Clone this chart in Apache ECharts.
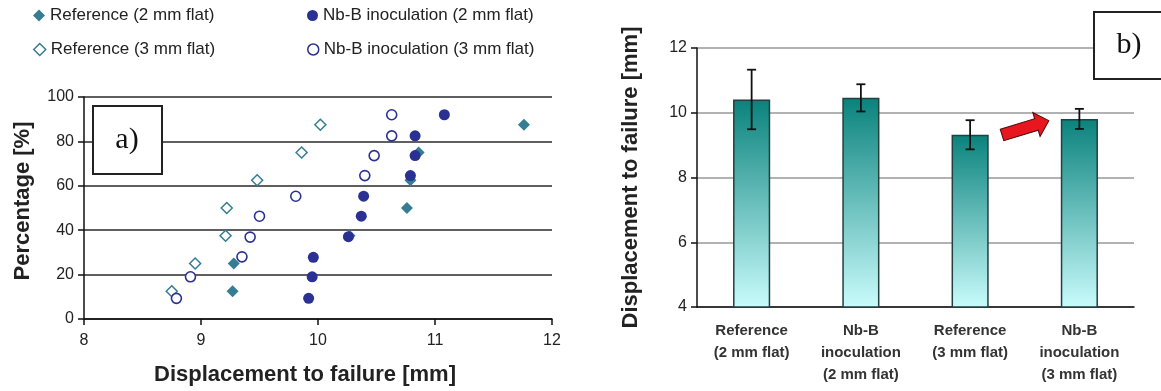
<!DOCTYPE html>
<html>
<head>
	<meta charset="utf-8">
	<script src="https://cdn.jsdelivr.net/npm/echarts@6/dist/echarts.min.js"></script>
	<style>
		* { margin: 0; padding: 0; }
		html, body { width: 100%; height: 100%; background: #fff; }
		#chart { width: 1161px; height: 391px; }
	</style>
</head>
<body>
	<div id="chart"></div>
	<script>
	// a) scatter: displacement [mm] vs cumulative percentage [%]
	var ref2X = [9.27, 9.28, 10.27, 10.76, 10.79, 10.86, 11.76];
	var ref2Y = [12.5, 25, 37.5, 50, 62.5, 75, 87.5];
	var ref3X = [8.75, 8.95, 9.21, 9.22, 9.48, 9.86, 10.02];
	var ref3Y = [12.5, 25, 37.5, 50, 62.5, 75, 87.5];
	var nb2X = [9.92, 9.95, 9.96, 10.26, 10.37, 10.39, 10.79, 10.83, 10.83, 11.08];
	var nb2Y = [9.3, 19.0, 27.8, 37.1, 46.3, 55.3, 64.6, 73.6, 82.5, 92.0];
	var nb3X = [8.79, 8.91, 9.35, 9.42, 9.50, 9.81, 10.40, 10.48, 10.63, 10.63];
	var nb3Y = [9.3, 19.0, 28.0, 36.9, 46.3, 55.3, 64.6, 73.6, 82.5, 92.0];

	// b) bars: mean displacement with error
	var barCats = ['Reference\n(2 mm flat)', 'Nb-B\ninoculation\n(2 mm flat)', 'Reference\n(3 mm flat)', 'Nb-B\ninoculation\n(3 mm flat)'];
	var barMean = [10.41, 10.46, 9.32, 9.81];
	var barErr = [0.92, 0.42, 0.45, 0.31];

	var names = ['Reference (2 mm flat)', 'Reference (3 mm flat)', 'Nb-B inoculation (2 mm flat)', 'Nb-B inoculation (3 mm flat)'];

	var font = 'Liberation Sans, Arial, sans-serif';
	var teal = '#357d92';
	var navy = '#2b3193';

	var zip = function(xs, ys) {
		return xs.map(function(x, i) { return [x, ys[i]]; });
	};

	var legendItem = function(name, left, top, icon, style, w) {
		return {
			data: [{ name: name, icon: icon, itemStyle: style }],
			left: left, top: top, padding: 0,
			itemWidth: w, itemHeight: w,
			selectedMode: false,
			textStyle: { fontFamily: font, fontSize: 17, color: '#222' }
		};
	};

	var chart = echarts.init(document.getElementById('chart'));
	chart.setOption({
		animation: false,
		textStyle: { fontFamily: font },
		legend: [
			legendItem(names[0], 33, 7, 'diamond', { color: teal, opacity: 1 }, 12),
			legendItem(names[1], 33, 41, 'diamond', { color: '#fff', borderColor: teal, borderWidth: 1.5, opacity: 1 }, 12),
			legendItem(names[2], 307, 7, 'circle', { color: navy, opacity: 1 }, 11),
			legendItem(names[3], 307, 41, 'circle', { color: '#fff', borderColor: navy, borderWidth: 1.5, opacity: 1 }, 11)
		],
		grid: [
			{ left: 84, top: 97, right: 609, bottom: 72 },
			{ left: 697, top: 48, right: 27, bottom: 84 }
		],
		xAxis: [{
			gridIndex: 0,
			type: 'value',
			min: 8, max: 12, interval: 1,
			name: 'Displacement to failure [mm]',
			nameLocation: 'middle',
			nameGap: 45,
			nameTextStyle: { fontSize: 22, fontWeight: 'bold', color: '#222', padding: [0, 26, 0, 0] },
			axisLine: { lineStyle: { color: '#111', width: 1.5 } },
			axisTick: { length: 6, lineStyle: { color: '#111', width: 1.5 } },
			axisLabel: { fontSize: 16, color: '#222', margin: 14 },
			splitLine: { show: false }
		}, {
			gridIndex: 1,
			type: 'category',
			data: barCats,
			axisLine: { lineStyle: { color: '#111', width: 1.5 } },
			axisTick: { length: 6, lineStyle: { color: '#111', width: 1.5 } },
			axisLabel: { fontSize: 15, fontWeight: 'bold', color: '#333', margin: 13, lineHeight: 22, interval: 0 }
		}],
		yAxis: [{
			gridIndex: 0,
			type: 'value',
			min: 0, max: 100, interval: 20,
			name: 'Percentage [%]',
			nameLocation: 'middle',
			nameGap: 50,
			nameTextStyle: { fontSize: 22, fontWeight: 'bold', color: '#222', padding: [0, 0, 0, 14] },
			axisLine: { show: true, lineStyle: { color: '#111', width: 1.5 } },
			axisTick: { show: true, length: 6, lineStyle: { color: '#111', width: 1.5 } },
			axisLabel: { fontSize: 16, color: '#222', margin: 10 },
			splitLine: { lineStyle: { color: '#2a2a2a', width: 1.5 } }
		}, {
			gridIndex: 1,
			type: 'value',
			min: 4, max: 12, interval: 2,
			name: 'Displacement to failure [mm]',
			nameLocation: 'middle',
			nameGap: 55,
			nameTextStyle: { fontSize: 22, fontWeight: 'bold', color: '#222' },
			axisLine: { show: true, lineStyle: { color: '#111', width: 1.5 } },
			axisTick: { show: true, length: 6, lineStyle: { color: '#111', width: 1.5 } },
			axisLabel: { fontSize: 16, color: '#222', margin: 10 },
			splitLine: { lineStyle: { color: '#999', width: 1.5 } }
		}],
		series: [{
			name: names[0], type: 'scatter', xAxisIndex: 0, yAxisIndex: 0,
			symbol: 'diamond', symbolSize: 12,
			itemStyle: { color: teal, opacity: 1 },
			data: zip(ref2X, ref2Y)
		}, {
			name: names[1], type: 'scatter', xAxisIndex: 0, yAxisIndex: 0,
			symbol: 'diamond', symbolSize: 11,
			itemStyle: { color: '#fff', borderColor: teal, borderWidth: 1.5, opacity: 1 },
			data: zip(ref3X, ref3Y)
		}, {
			name: names[2], type: 'scatter', xAxisIndex: 0, yAxisIndex: 0,
			symbol: 'circle', symbolSize: 11,
			itemStyle: { color: navy, opacity: 1 },
			data: zip(nb2X, nb2Y)
		}, {
			name: names[3], type: 'scatter', xAxisIndex: 0, yAxisIndex: 0,
			symbol: 'circle', symbolSize: 10,
			itemStyle: { color: '#fff', borderColor: navy, borderWidth: 1.6, opacity: 1 },
			data: zip(nb3X, nb3Y)
		}, {
			type: 'bar', xAxisIndex: 1, yAxisIndex: 1,
			barWidth: '34%',
			itemStyle: {
				color: new echarts.graphic.LinearGradient(0, 0, 0, 1, [
					{ offset: 0, color: '#0a827c' },
					{ offset: 1, color: '#c9fcfc' }
				]),
				borderColor: '#23403f',
				borderWidth: 1.5
			},
			data: barMean
		}, {
			type: 'custom', xAxisIndex: 1, yAxisIndex: 1,
			z: 5,
			renderItem: function(params, api) {
				var i = api.value(0);
				var lo = api.coord([i, api.value(1)]);
				var hi = api.coord([i, api.value(2)]);
				var st = { stroke: '#111', lineWidth: 1.8 };
				return {
					type: 'group',
					children: [
						{ type: 'line', shape: { x1: lo[0], y1: lo[1], x2: hi[0], y2: hi[1] }, style: st },
						{ type: 'line', shape: { x1: lo[0] - 4.5, y1: lo[1], x2: lo[0] + 4.5, y2: lo[1] }, style: st },
						{ type: 'line', shape: { x1: hi[0] - 4.5, y1: hi[1], x2: hi[0] + 4.5, y2: hi[1] }, style: st }
					]
				};
			},
			data: barMean.map(function(m, i) { return [i, m - barErr[i], m + barErr[i]]; })
		}],
		graphic: [{
			type: 'rect', z: 10,
			shape: { x: 93, y: 106, width: 69, height: 68 },
			style: { fill: '#fff', stroke: '#222', lineWidth: 2 }
		}, {
			type: 'text', z: 11, x: 127, y: 140,
			style: { text: 'a)', font: '30px "Liberation Serif", "Times New Roman", serif', fill: '#111', align: 'center', verticalAlign: 'middle' }
		}, {
			type: 'rect', z: 10,
			shape: { x: 1094, y: 12, width: 80, height: 67 },
			style: { fill: '#fff', stroke: '#222', lineWidth: 2 }
		}, {
			type: 'text', z: 11, x: 1129, y: 45,
			style: { text: 'b)', font: '30px "Liberation Serif", "Times New Roman", serif', fill: '#111', align: 'center', verticalAlign: 'middle' }
		}, {
			// red arrow pointing at the last bar
			type: 'polygon', z: 10,
			x: 1002, y: 135, rotation: 17 * Math.PI / 180,
			shape: { points: [[0, -6], [36, -6], [36, -12.5], [49, 0], [36, 12.5], [36, 6], [0, 6]] },
			style: { fill: '#e8161e', stroke: '#4a0c0c', lineWidth: 1 }
		}]
	});
	</script>
</body>
</html>
